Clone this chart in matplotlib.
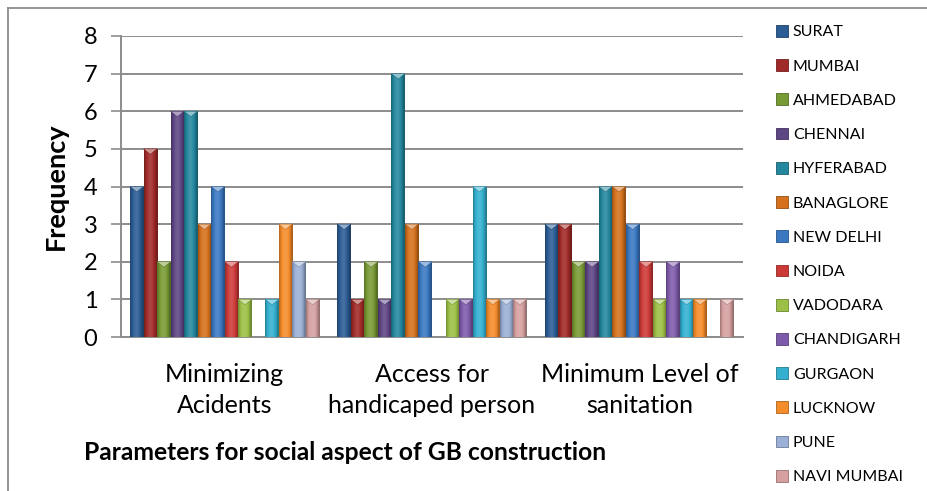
import numpy as np
import matplotlib
matplotlib.use("Agg")
import matplotlib.pyplot as plt
from matplotlib.patches import Polygon, Patch
from matplotlib.colors import to_rgb

plt.rcParams['font.family'] = ['Lato', 'DejaVu Sans']

# ---- data -----------------------------------------------------------------
categories = ["Minimizing\nAcidents", "Access for\nhandicaped person", "Minimum Level of\nsanitation"]
cities = ["SURAT", "MUMBAI", "AHMEDABAD", "CHENNAI", "HYFERABAD", "BANAGLORE",
          "NEW DELHI", "NOIDA", "VADODARA", "CHANDIGARH", "GURGAON", "LUCKNOW",
          "PUNE", "NAVI MUMBAI"]
surat      = [4, 3, 3]
mumbai     = [5, 1, 3]
ahmedabad  = [2, 2, 2]
chennai    = [6, 1, 2]
hyderabad  = [6, 7, 4]
bangalore  = [3, 3, 4]
new_delhi  = [4, 2, 3]
noida      = [2, 0, 2]
vadodara   = [1, 1, 1]
chandigarh = [0, 1, 2]
gurgaon    = [1, 4, 1]
lucknow    = [3, 1, 1]
pune       = [2, 1, 0]
navi_mumbai = [1, 1, 1]
series = [surat, mumbai, ahmedabad, chennai, hyderabad, bangalore, new_delhi,
          noida, vadodara, chandigarh, gurgaon, lucknow, pune, navi_mumbai]
yticks = [0, 1, 2, 3, 4, 5, 6, 7, 8]

colors = ["#2B5C94", "#A02A28", "#789A34", "#5E4584", "#23879E", "#D5711C",
          "#3A78C2", "#CC3A38", "#9CC046", "#7E5BAA", "#33B0D0", "#F58C2A",
          "#9BB0D6", "#D6A0A0"]

# ---- figure ---------------------------------------------------------------
W, H = 928, 491
fig = plt.figure(figsize=(W / 100, H / 100), dpi=100)
ax = fig.add_axes([121 / W, 1 - 337 / H, (743 - 121) / W, (337 - 36) / H])

# outer chart frame (top and left edges)
fig.add_artist(plt.Line2D([8.5 / W, 8.5 / W], [0, 1 - 7.5 / H], transform=fig.transFigure,
                          color="#8c8c8c", lw=1.3))
fig.add_artist(plt.Line2D([8.5 / W, 1], [1 - 7.5 / H, 1 - 7.5 / H], transform=fig.transFigure,
                          color="#8c8c8c", lw=1.3))

n = len(series)
group_w = 0.913
bw = group_w / n
x = np.arange(len(categories))

ymin, ymax = 0, 8
ax.set_xlim(-0.5, len(categories) - 0.5)
ax.set_ylim(ymin, ymax)
ax.set_autoscale_on(False)

# horizontal shading profile for a rounded, bevelled bar look
prof = np.linspace(0, 1, 64)
shade = 0.70 + 0.42 * np.sin(np.pi * np.clip(prof * 1.1, 0, 1)) ** 0.8

tri_depth = 5.5 / 37.6  # in data units


def shaded(rgb, k):
    rgb = np.array(rgb)
    if k <= 1:
        return rgb * k
    return rgb + (1 - rgb) * (k - 1)


for i, (vals, col) in enumerate(zip(series, colors)):
    rgb = to_rgb(col)
    xs = x - group_w / 2 + (i + 0.5) * bw
    bars = ax.bar(xs, vals, width=bw, color=col, edgecolor="none", zorder=3)
    img = np.array([[shaded(rgb, k) for k in shade]])
    for b in bars:
        h = b.get_height()
        if h <= 0:
            continue
        x0, w = b.get_x(), b.get_width()
        im = ax.imshow(img, extent=(x0, x0 + w, 0, h), aspect="auto",
                       interpolation="bilinear", zorder=3.1)
        im.set_clip_path(b)
        light = shaded(rgb, 1.5)
        ax.add_patch(Polygon([(x0, h), (x0 + w, h), (x0 + w / 2, h - tri_depth)],
                             closed=True, facecolor=light, edgecolor="none", zorder=3.2))
        ax.add_patch(Polygon([(x0, h), (x0 + w, h), (x0 + w / 2, h - tri_depth)],
                             closed=True, facecolor="none", edgecolor=shaded(rgb, 0.8),
                             lw=0.4, zorder=3.3))

ax.set_xlim(-0.5, len(categories) - 0.5)
ax.set_ylim(ymin, ymax)

# grid and axes
ax.set_yticks(yticks)
ax.set_yticklabels([str(t) for t in yticks], fontsize=17)
ax.yaxis.grid(True, color="#8c8c8c", lw=1.4, zorder=0)
ax.set_axisbelow(True)
ax.set_xticks(x)
ax.set_xticklabels(categories, fontsize=18, linespacing=1.42)
ax.tick_params(axis="x", length=0, pad=19)
ax.tick_params(axis="y", length=7, width=1.2, color="#8c8c8c", pad=10)
for s in ("top", "right"):
    ax.spines[s].set_visible(False)
for s in ("left", "bottom"):
    ax.spines[s].set_color("#8c8c8c")
    ax.spines[s].set_linewidth(1.4)

ax.set_ylabel("Frequency", fontsize=19.5, fontweight="bold")
ax.yaxis.set_label_coords((68 - 121) / (743 - 121), 0.5)
fig.text(84 / W, 1 - 452 / H, "Parameters for social aspect of GB construction",
         fontsize=17.7, fontweight="bold", ha="left", va="center")

# legend
handles = [Patch(facecolor=c, edgecolor=shaded(to_rgb(c), 0.7), lw=0.6) for c in colors]
fig.legend(handles, cities, loc="upper left", bbox_to_anchor=(776 / W, 1 - 25 / H),
           frameon=False, fontsize=11.5, handlelength=0.75, handleheight=0.75,
           handletextpad=0.3, labelspacing=1.24, borderpad=0, borderaxespad=0)

fig.savefig("out.png", dpi=100)
